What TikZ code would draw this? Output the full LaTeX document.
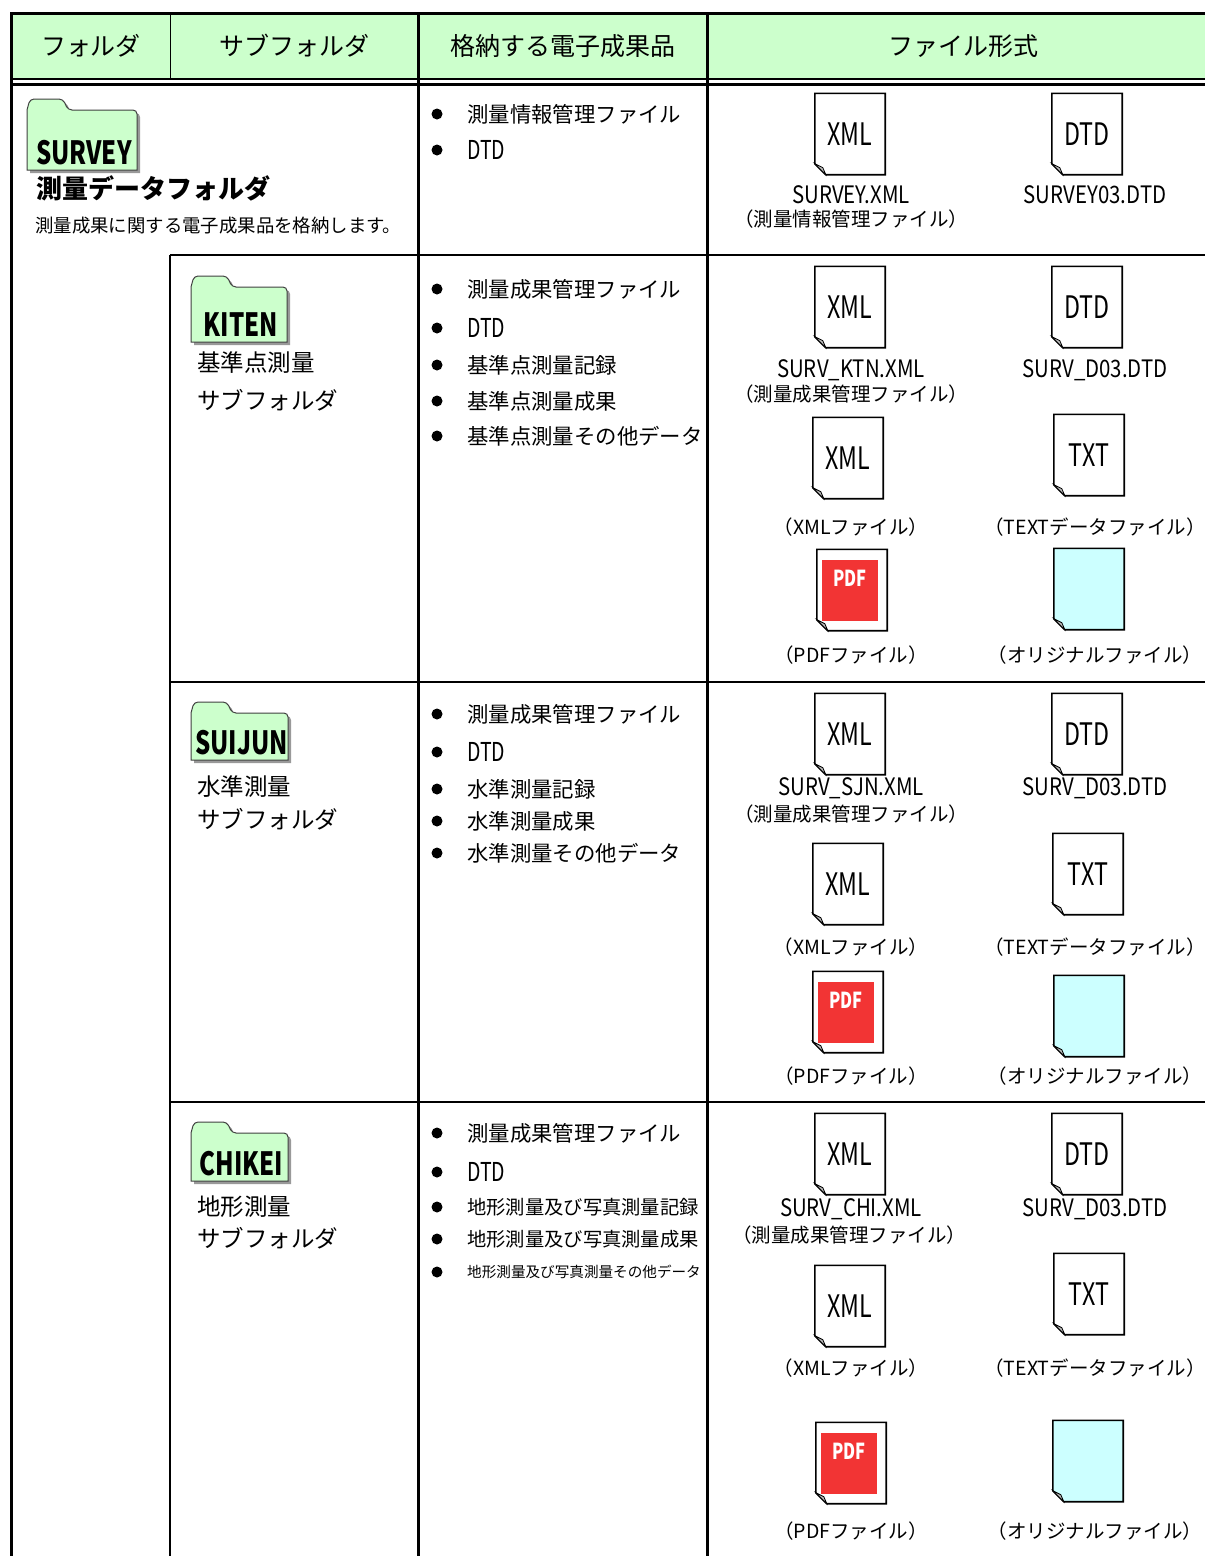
\documentclass[tikz,border=0pt]{standalone}
\usepackage{fontspec}
\setmainfont{Noto Sans CJK JP}
\newfontfamily\narrowfont{Noto Sans CJK JP}[FakeStretch=0.75]
\newfontfamily\namefont{Noto Sans CJK JP}[FakeStretch=0.85]
\usetikzlibrary{positioning,shadows}
\newcommand\fsz[1]{\fontsize{#1pt}{#1pt}\selectfont}
\definecolor{headgreen}{RGB}{204,255,204}
\definecolor{origcyan}{RGB}{204,255,255}
\definecolor{pdfred}{RGB}{242,52,52}

\begin{document}
\begin{tikzpicture}[x=1pt,y=-1pt,
    rule/.style={line width=3pt},
    thinrule/.style={line width=1.4pt},
    head/.style={inner sep=0pt,font=\fsz{25}},
    folder/.style={draw=black!75,line width=1pt,fill=headgreen,
      drop shadow={shadow xshift=3pt,shadow yshift=-3pt,fill=black!40,opacity=1}},
    flabel/.style={anchor=south,inner sep=0pt,font=\narrowfont\bfseries\fsz{32}},
    subname/.style={anchor=west,inner sep=0pt,font=\fsz{23.5}},
    item/.style={anchor=west,inner sep=0pt},
    doc/.style={minimum width=70pt,minimum height=81pt,inner sep=0pt,font=\narrowfont\fsz{31}},
    docline/.style={draw=black,line width=1.6pt},
    fname/.style={inner sep=0pt,font=\namefont\fsz{24}},
    note/.style={inner sep=0pt,font=\fsz{19.5}},
    pdfmark/.style={fill=pdfred,minimum width=56pt,minimum height=61pt,inner sep=0pt,
      text=white,font=\narrowfont\bfseries\fsz{22},text height=14pt,text depth=22pt}
  ]
    \useasboundingbox (0,0) rectangle (1205,1556);
    \fill[headgreen] (11,13) rectangle (1205,79);

    \draw[rule] (11.5,12) -- (11.5,1556);
    \draw[rule] (10,13.5) -- (1205,13.5);
    \draw[line width=2pt] (11,78.5) -- (1205,78.5);
    \draw[rule] (11,84) -- (1205,84);
    \draw[rule] (418,12) -- (418,1556);
    \draw[rule] (707,12) -- (707,1556);
    \draw[line width=1pt] (170,14) -- (170,78);
    \draw[thinrule] (170,255) -- (170,1556);
    \draw[thinrule] (170,255) -- (1205,255);
    \draw[thinrule] (170,682) -- (1205,682);
    \draw[thinrule] (170,1102) -- (1205,1102);

    \node[head] (hfolder) at (91,46) {フォルダ};
    \node[head] (hsub) at (294,46) {サブフォルダ};
    \node[head] (hitems) at (563,46) {格納する電子成果品};
    \node[head] (hform) at (963,46) {ファイル形式};

    \foreach \n/\x/\ty/\by/\fw/\lb in {survey/27/110/170/110/SURVEY,
        kiten/191/287/342/96/KITEN, suijun/191/713/760/97/SUIJUN,
        chikei/191/1133/1181/97/CHIKEI}
    {
      \draw[folder] (\x,\by) -- (\x,\ty) [rounded corners=4pt] -- (\x+3,\ty-11)
        -- (\x+36,\ty-11) -- (\x+41,\ty) -- (\x+\fw,\ty) [sharp corners] -- (\x+\fw,\by) -- cycle;
      \node[flabel] (\n) at (\x+\fw/2+2,\by-5) {\lb};
    }

    \node[anchor=west,inner sep=0pt,font=\bfseries\fsz{26}] (surveyname) at (36,188) {測量データフォルダ};
    \node[anchor=west,inner sep=0pt,font=\fsz{18.4}] (surveynote) at (35,226) {測量成果に関する電子成果品を格納します。};

    \foreach \n/\y/\tx in {kitenname/363/基準点測量, kitensub/400/サブフォルダ,
        suijunname/787/水準測量, suijunsub/819/サブフォルダ,
        chikeiname/1207/地形測量, chikeisub/1238/サブフォルダ}
      \node[subname] (\n) at (197,\y) {\tx};

    \foreach \n/\y/\s/\tx in {s1/114/21.4/測量情報管理ファイル, s2/150/21.4/{\narrowfont\fsz{26}DTD},
        k1/289/21.4/測量成果管理ファイル, k2/328/21.4/{\narrowfont\fsz{26}DTD},
        k3/365/21.4/基準点測量記録, k4/401/21.4/基準点測量成果, k5/436/21.4/基準点測量その他データ,
        u1/714/21.4/測量成果管理ファイル, u2/752/21.4/{\narrowfont\fsz{26}DTD},
        u3/789/21.4/水準測量記録, u4/821/21.4/水準測量成果, u5/853/21.4/水準測量その他データ,
        c1/1133/21.4/測量成果管理ファイル, c2/1172/21.4/{\narrowfont\fsz{26}DTD},
        c3/1207/19.3/地形測量及び写真測量記録, c4/1239/19.3/地形測量及び写真測量成果,
        c5/1272/14.6/地形測量及び写真測量その他データ}
    {
      \fill (437,\y) circle (5.5);
      \node[item,font=\fsz{\s}] (\n) at (467,\y) {\tx};
    }

    \foreach \n/\x/\y/\tx in {sxml/850/134/XML, sdtd/1087/134/DTD,
        kxml/850/307/XML, kdtd/1087/307/DTD, kxml2/848/458/XML, ktxt/1089/455/TXT,
        kpdf/852/590/{}, korg/1089/589/{},
        uxml/850/734/XML, udtd/1087/734/DTD, uxml2/848/884/XML, utxt/1088/874/TXT,
        updf/848/1012/{}, uorg/1089/1016/{},
        cxml/850/1154/XML, cdtd/1087/1154/DTD, cxml2/850/1306/XML, ctxt/1089/1294/TXT,
        cpdf/851/1463/{}, corg/1088/1461/{}}
      \node[doc] (\n) at (\x,\y) {\tx};

    \foreach \n/\c in {sxml/none, sdtd/none, kxml/none, kdtd/none, kxml2/none, ktxt/none,
        kpdf/white, korg/origcyan, uxml/none, udtd/none, uxml2/none, utxt/none,
        updf/white, uorg/origcyan, cxml/none, cdtd/none, cxml2/none, ctxt/none,
        cpdf/white, corg/origcyan}
    {
      \draw[docline,fill=\c] (\n.north west) -- (\n.north east) -- (\n.south east)
        -- ([xshift=11pt]\n.south west) -- ([yshift=11pt]\n.south west) -- cycle;
      \filldraw[fill=black!25,line width=0.8pt] ([yshift=11pt]\n.south west)
        -- ([shift={(8pt,7pt)}]\n.south west) -- ([xshift=11pt]\n.south west) -- cycle;
    }

    \node[pdfmark] (kpdfmark) at ([xshift=-2pt]kpdf.center) {PDF};
    \node[pdfmark] (updfmark) at ([xshift=-2pt]updf.center) {PDF};
    \node[pdfmark] (cpdfmark) at ([xshift=-2pt]cpdf.center) {PDF};

    \foreach \n/\x/\y/\tx in {sxmlname/851/195/SURVEY.XML, sdtdname/1095/195/SURVEY03.DTD,
        kxmlname/851/370/SURV\_KTN.XML, kdtdname/1095/370/SURV\_D03.DTD,
        uxmlname/851/788/SURV\_SJN.XML, udtdname/1095/788/SURV\_D03.DTD,
        cxmlname/851/1209/SURV\_CHI.XML, cdtdname/1095/1209/SURV\_D03.DTD}
      \node[fname] (\n) at (\x,\y) {\tx};

    \foreach \n/\x/\y/\tx in {snote/851/219/（測量情報管理ファイル）,
        knote/851/394/（測量成果管理ファイル）, kxml2note/851/527/（XMLファイル）,
        ktxtnote/1095/527/（TEXTデータファイル）, kpdfnote/851/655/（PDFファイル）,
        korgnote/1095/655/（オリジナルファイル）,
        unote/851/814/（測量成果管理ファイル）, uxml2note/851/947/（XMLファイル）,
        utxtnote/1095/947/（TEXTデータファイル）, updfnote/851/1076/（PDFファイル）,
        uorgnote/1095/1076/（オリジナルファイル）,
        cnote/849/1235/（測量成果管理ファイル）, cxml2note/851/1368/（XMLファイル）,
        ctxtnote/1095/1368/（TEXTデータファイル）, cpdfnote/851/1531/（PDFファイル）,
        corgnote/1095/1531/（オリジナルファイル）}
      \node[note] (\n) at (\x,\y) {\tx};
\end{tikzpicture}
\end{document}
